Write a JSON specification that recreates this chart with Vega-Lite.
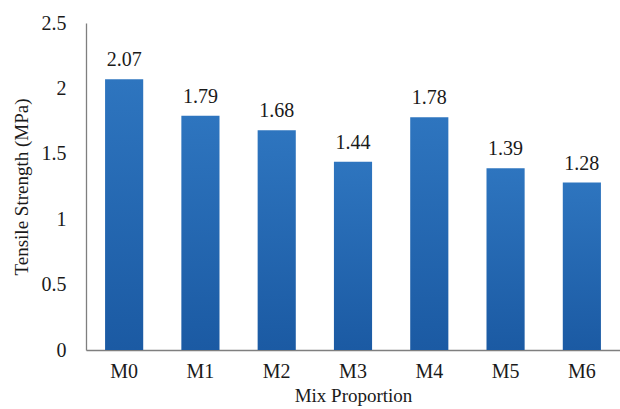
{
  "$schema": "https://vega.github.io/schema/vega-lite/v6.json",
  "autosize": "none",
  "width": 534,
  "height": 327,
  "padding": {"left": 86, "top": 23, "right": 0, "bottom": 59},
  "background": "white",
  "config": {
    "font": "Liberation Serif",
    "view": {"stroke": null},
    "axis": {"grid": false, "ticks": false, "labelFont": "Liberation Serif", "titleFont": "Liberation Serif", "labelFontSize": 20, "titleFontSize": 19, "labelColor": "#1a1a1a", "titleColor": "#1a1a1a", "titleFontWeight": "normal", "domainColor": "#7f7f7f", "domainWidth": 1.3}
  },
  "data": {
    "values": [
      {"mix": "M0", "strength": 2.07},
      {"mix": "M1", "strength": 1.79},
      {"mix": "M2", "strength": 1.68},
      {"mix": "M3", "strength": 1.44},
      {"mix": "M4", "strength": 1.78},
      {"mix": "M5", "strength": 1.39},
      {"mix": "M6", "strength": 1.28}
    ]
  },
  "encoding": {
    "x": {"field": "mix", "type": "nominal", "sort": null,
      "scale": {"paddingInner": 0.5, "paddingOuter": 0.25},
      "axis": {"title": "Mix Proportion", "labelAngle": 0, "labelPadding": 11, "titlePadding": 5}},
    "y": {"field": "strength", "type": "quantitative",
      "scale": {"domain": [0, 2.5], "nice": false},
      "axis": {"title": "Tensile Strength (MPa)", "values": [0, 0.5, 1, 1.5, 2, 2.5], "format": ".1~f", "labelPadding": 20, "titlePadding": 10}}
  },
  "layer": [
    {"mark": {"type": "bar", "color": {"gradient": "linear", "x1": 0, "y1": 0, "x2": 0, "y2": 1, "stops": [{"offset": 0, "color": "#2e75bf"}, {"offset": 1, "color": "#1b5aa3"}]}}},
    {"mark": {"type": "text", "baseline": "bottom", "dy": -9, "fontSize": 20, "color": "#1a1a1a", "font": "Liberation Serif"},
      "encoding": {"text": {"field": "strength", "type": "quantitative", "format": ".2f"}}}
  ]
}
